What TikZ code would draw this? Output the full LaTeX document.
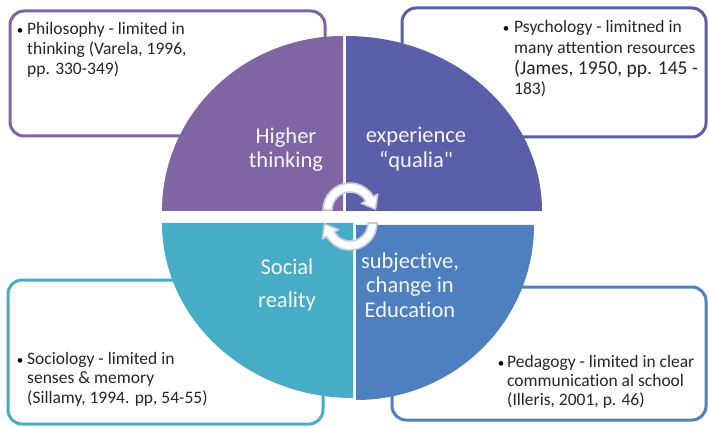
\documentclass[tikz,border=0pt]{standalone}
\usepackage{fontspec}
\setmainfont[Ligatures={TeX,NoCommon}]{Carlito}
\newfontfamily\rawquote[Ligatures={TeXOff,NoCommon}]{Carlito}
\definecolor{qpurple}{HTML}{7F65A4}
\definecolor{qindigo}{HTML}{5B5FA9}
\definecolor{qteal}{HTML}{47ADC6}
\definecolor{qblue}{HTML}{4E7FBE}
\definecolor{arrowline}{HTML}{C9C9DB}
\tikzset{
  infobox/.style={line width=3pt, rounded corners=14pt, fill=white},
  boxtext/.style={anchor=base west, inner sep=0pt, align=left, text=black!85,
    font=\fontsize{17.5}{20}\selectfont},
  bullettext/.style={anchor=base, inner sep=0pt, text=black,
    font=\fontsize{13}{20}\selectfont},
  quadtext/.style={anchor=base, inner sep=0pt, align=center, text=white!96!black,
    font=\fontsize{22.5}{24.5}\selectfont},
  cyclearrow/.style={fill=white, draw=arrowline, line width=1.6pt, line join=round}
}
\begin{document}
\begin{tikzpicture}[x=1pt,y=1pt]
\useasboundingbox (0,0) rectangle (709,426);
% corner boxes
\draw[infobox, draw=qpurple] (10,290) rectangle (325,415);
\draw[infobox, draw=qindigo] (402,289) rectangle (706,418);
\draw[infobox, draw=qteal] (8,2) rectangle (323,146);
\draw[infobox, draw=qblue] (392,6) rectangle (706,139);
% quadrants
\fill[qpurple] (343,215) -- (162,215) arc[start angle=180, end angle=90, x radius=181pt, y radius=175pt] -- cycle;
\fill[qindigo] (346,215) -- (542,215) arc[start angle=0, end angle=90, x radius=196pt, y radius=175pt] -- cycle;
\fill[qteal] (353,203) -- (162,203) arc[start angle=180, end angle=270, x radius=191pt, y radius=175pt] -- cycle;
\fill[qblue] (356,201) -- (534,201) arc[start angle=0, end angle=-90, x radius=178pt, y radius=175pt] -- cycle;
% box texts (node base = baseline of last line)
\node[bullettext] (b1) at (20,391) {•};
\node[boxtext] (t1) at (27,351) {Philosophy - limited in\\thinking (Varela, 1996,\\pp. 330-349)};
\node[bullettext] (b2) at (506,393) {•};
\node[boxtext, font=\fontsize{17.5}{20.7}\selectfont] (t2) at (514,331) {Psychology - limitned in\\many attention resources\\{\fontsize{19.5}{20.7}\selectfont(James, 1950, pp. 145 -}\\183)};
\node[bullettext] (b3) at (20,62) {•};
\node[boxtext, font=\fontsize{17.5}{19.5}\selectfont] (t3) at (27,23) {Sociology - limited in\\senses \& memory\\(Sillamy, 1994. pp, 54-55)};
\node[bullettext] (b4) at (501,59) {•};
\node[boxtext, font=\fontsize{17.5}{19}\selectfont] (t4) at (507,21) {Pedagogy - limited in clear\\communication al school\\(Illeris, 2001, p. 46)};
% quadrant texts
\node[quadtext] (q1) at (286,258) {Higher\\thinking};
\node[quadtext, font=\fontsize{22.5}{25}\selectfont] (q2) at (416,258) {experience\\\textquotedblleft{\rawquote qualia"}};
\node[quadtext, font=\fontsize{22.5}{33}\selectfont] (q3) at (287,119) {Social\\reality};
\node[quadtext] (q4) at (410,109) {subjective,\\change in\\Education};
% centre arrows
\coordinate (U) at (350,216);
\coordinate (L) at (350,203);
\draw[cyclearrow] ([shift={(180:27)}]U) arc[start angle=180, end angle=30, radius=27pt]
  -- ([shift={(30:32)}]U) -- (375.5,216.9) -- ([shift={(30:13)}]U) -- ([shift={(30:18)}]U)
  arc[start angle=30, end angle=180, radius=18pt] -- cycle;
\draw[cyclearrow] ([shift={(0:27)}]L) arc[start angle=0, end angle=-150, radius=27pt]
  -- ([shift={(-150:32)}]L) -- (324.5,202.1) -- ([shift={(-150:13)}]L) -- ([shift={(-150:18)}]L)
  arc[start angle=-150, end angle=0, radius=18pt] -- cycle;
\end{tikzpicture}
\end{document}
